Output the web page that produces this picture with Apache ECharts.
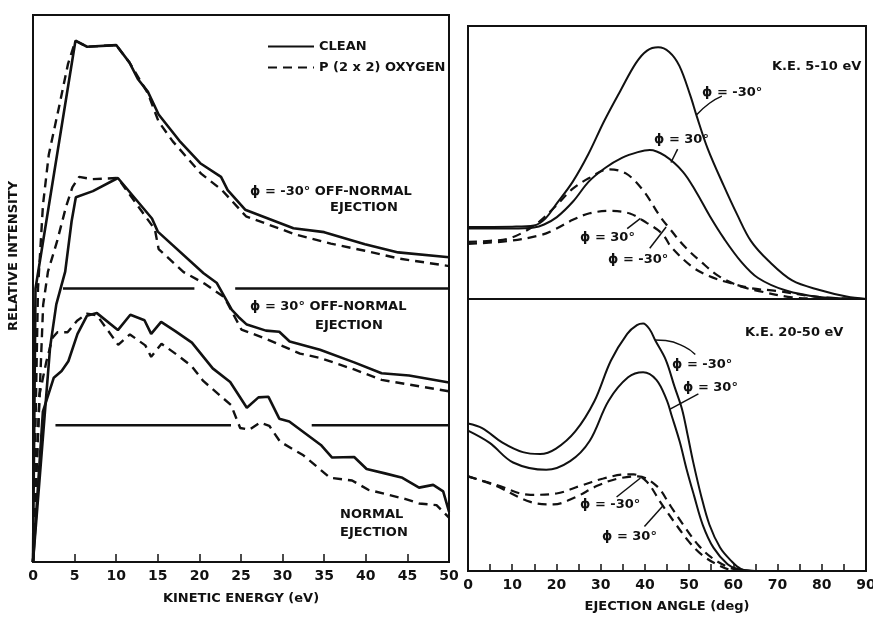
<!DOCTYPE html>
<html lang="en">
<head>
<meta charset="utf-8">
<title>Energy and angle distributions</title>
<script src="https://cdn.jsdelivr.net/npm/echarts@6/dist/echarts.min.js"></script>
<style>html,body{margin:0;padding:0;background:#fff}</style>
</head>
<body>
<div id="main" style="width:873px;height:618px"></div>
<script>
// left panel: kinetic energy (eV) vs relative intensity, curves offset by group
var cleanM30 = [[0,0],[0.3,5.0],[5.1,9.53],[6.5,9.42],[10.0,9.45],[11.6,9.13],[12.6,8.83],[13.8,8.6],[15.1,8.18],[17.6,7.7],[20.1,7.29],[22.6,7.04],[23.4,6.8],[25.5,6.44],[31.3,6.1],[35.0,6.03],[39.9,5.81],[43.9,5.66],[50,5.57]];
var oxyM30 = [[0,0],[0.6,5.0],[1.2,6.53],[1.9,7.45],[3.2,8.37],[4.2,9.1],[5.1,9.53],[6.5,9.42],[10.0,9.45],[11.6,9.13],[13.8,8.57],[15.1,8.05],[16.8,7.69],[20.2,7.1],[22.7,6.8],[25.6,6.32],[31.7,5.98],[35.8,5.82],[39.9,5.69],[43.9,5.55],[50,5.41]];
var clean30 = [[0,0],[2.05,3.92],[2.8,4.71],[3.87,5.31],[4.64,6.23],[5.15,6.67],[7.2,6.78],[10.2,7.02],[14.3,6.28],[15.0,6.04],[20.5,5.28],[22.1,5.1],[23.9,4.61],[24.7,4.48],[25.7,4.34],[28.0,4.23],[29.6,4.21],[30.85,4.03],[34.5,3.88],[38.6,3.65],[41.9,3.45],[45.2,3.41],[50,3.28]];
var oxy30 = [[0,0],[1.22,4.7],[1.8,5.31],[2.89,5.86],[3.96,6.49],[4.73,6.85],[5.55,7.04],[7.12,7.0],[10.18,7.02],[14.65,6.08],[15.1,5.72],[18.1,5.3],[20.6,5.09],[23.0,4.84],[23.8,4.61],[25.05,4.25],[28.0,4.08],[32.1,3.81],[34.5,3.73],[38.6,3.52],[41.9,3.33],[50,3.12]];
var cleanNormal = [[0,0],[1.19,2.75],[2.5,3.37],[3.44,3.49],[4.25,3.67],[5.35,4.17],[6.48,4.5],[7.68,4.55],[10.2,4.24],[11.7,4.52],[13.4,4.42],[14.2,4.17],[15.4,4.39],[17.1,4.22],[19.1,4.01],[21.6,3.54],[23.7,3.29],[25.7,2.82],[27.1,3.01],[28.3,3.02],[29.6,2.62],[30.8,2.57],[34.6,2.14],[35.95,1.91],[38.6,1.92],[40.1,1.7],[42.3,1.62],[44.4,1.54],[46.4,1.36],[48.1,1.41],[49.3,1.29],[50,0.92]];
var oxyNormal = [[0,0],[0.78,3.06],[1.6,3.66],[2.35,4.1],[2.93,4.2],[4.15,4.2],[5.3,4.41],[6.47,4.54],[7.68,4.51],[8.97,4.24],[10.24,3.97],[11.65,4.16],[13.5,3.96],[14.2,3.75],[15.45,3.99],[17.2,3.8],[19.07,3.58],[20.46,3.31],[23.8,2.87],[24.9,2.45],[26.0,2.42],[27.3,2.55],[28.4,2.49],[29.7,2.2],[32.5,1.95],[35.7,1.54],[38.35,1.49],[40.3,1.32],[44.8,1.15],[46.4,1.07],[48.5,1.04],[50,0.81]];
// offset zero levels of the two upper groups, drawn with gaps
var baseM30 = 5.0, baseM30Segs = [[3.6,19.4],[24.3,50]];
var base30 = 2.5, base30Segs = [[2.7,23.8],[33.5,50]];

// right panel, K.E. 5-10 eV: ejection angle (deg) vs intensity
var lowCleanM30 = [[0,2.64],[10,2.65],[14.9,2.69],[17.5,2.95],[19.8,3.44],[23.7,4.3],[27.2,5.3],[30.8,6.52],[34.5,7.64],[38.0,8.65],[40.5,9.1],[43,9.22],[45.5,9.05],[47.8,8.54],[50.3,7.44],[51.7,6.71],[54.2,5.51],[57.8,4.16],[60.9,3.08],[64.0,2.12],[68.0,1.39],[73.3,0.68],[79.5,0.33],[85.6,0.09],[90,0]];
var lowClean30 = [[0,2.58],[10,2.58],[14.9,2.62],[17.2,2.73],[20.1,3.0],[23.8,3.58],[27.3,4.3],[31.0,4.8],[34.8,5.17],[38.4,5.38],[41.1,5.46],[44.5,5.25],[48.6,4.66],[51.6,3.92],[54.7,3.03],[57.9,2.21],[61.7,1.38],[65.6,0.77],[71.9,0.31],[79.5,0.07],[87,0.01],[90,0]];
var lowOxyM30 = [[0,2.09],[5,2.13],[8.9,2.2],[12.7,2.46],[16.2,2.84],[19.8,3.4],[23.7,4.04],[27.3,4.42],[31.8,4.75],[35.7,4.6],[39.6,3.98],[43.5,3.01],[45.8,2.54],[49.0,1.92],[52.8,1.35],[56.7,0.84],[61.2,0.49],[65.8,0.29],[73.3,0.06],[80,0.01],[90,0]];
var lowOxy30 = [[0,2.02],[8.9,2.12],[16.2,2.33],[19.8,2.56],[23.7,2.9],[27.5,3.14],[32.1,3.23],[36.6,3.13],[40.5,2.78],[42.9,2.53],[44.5,2.27],[45.9,1.91],[50.6,1.19],[54.5,0.84],[58.3,0.63],[64.2,0.39],[69.6,0.3],[79.5,0.07],[90,0]];

// right panel, K.E. 20-50 eV
var highCleanM30 = [[0,5.42],[3.2,5.25],[7.8,4.72],[12.4,4.37],[16.3,4.3],[19.9,4.5],[24.3,5.14],[28.6,6.25],[32.3,7.73],[36.0,8.72],[38.2,9.04],[39.6,9.1],[41.1,8.88],[42.3,8.49],[44.7,7.77],[46.7,6.78],[48.4,5.95],[49.7,4.97],[50.9,4.02],[52.7,2.78],[54.6,1.7],[57.0,0.86],[59.4,0.39],[61.7,0.08],[65,0],[90,0]];
var highClean30 = [[0,5.16],[4.9,4.71],[10.2,3.99],[17.7,3.72],[23.1,4.04],[27.5,4.78],[31.8,6.26],[36.2,7.12],[39.6,7.31],[42.6,7.03],[44.9,6.3],[46.1,5.69],[47.9,4.74],[49.4,3.76],[51.1,2.78],[53.1,1.69],[55.5,0.86],[58.7,0.25],[61,0.07],[65,0],[90,0]];
var highOxyM30 = [[0,3.48],[6.3,3.13],[14.1,2.54],[19.4,2.45],[24.0,2.69],[29.2,3.13],[33.7,3.39],[38.5,3.48],[42.7,3.12],[45.8,2.39],[48.8,1.67],[52.1,0.95],[55.1,0.49],[58.9,0.14],[62,0.02],[66,0],[90,0]];
var highOxy30 = [[0,3.48],[6.3,3.17],[14.1,2.8],[20.0,2.85],[25.4,3.13],[30.6,3.4],[35.7,3.55],[37.5,3.55],[40.5,3.27],[43.5,2.53],[46.6,1.81],[49.9,1.09],[52.9,0.59],[56.8,0.2],[59.8,0.03],[65,0],[90,0]];

// leader lines from the phi labels to their curves
var lowPointers = [[[51.7,6.75],[54.6,7.17],[57.4,7.43]], [[45.9,5.0],[47.4,5.49]], [[36,2.58],[39,2.95]], [[41.1,1.86],[44.8,2.64]]];
var highPointers = [[[42.3,8.49],[44.7,8.47],[48.9,8.25],[51.4,7.96]], [[45.7,5.95],[52.1,6.51]], [[33.6,2.72],[39.0,3.42]], [[39.9,1.64],[44.1,2.4]]];

var CLEAN = 'CLEAN', OXY = 'P (2 x 2) OXYGEN';
var ink = '#111';
var fontFam = '"DejaVu Sans", "Liberation Sans", sans-serif';

var chart = echarts.init(document.getElementById('main'));

function curve(name, data, idx, dashed, w, smooth) {
    return {
        type: 'line', name: name, data: data,
        xAxisIndex: idx, yAxisIndex: idx,
        symbol: 'none', smooth: smooth || false,
        silent: true, animation: false,
        itemStyle: {color: ink},
        lineStyle: {color: ink, width: w, type: dashed ? [9, 6] : 'solid'}
    };
}
function levelLine(level, segs) {
    var d = [];
    segs.forEach(function (s, i) {
        if (i) d.push([s[0], '-']);
        d.push([s[0], level], [s[1], level]);
    });
    return curve('zero', d, 0, false, 2.5);
}

var series = [
    curve(CLEAN, cleanM30, 0, false, 2.6),
    curve(OXY, oxyM30, 0, true, 2.4),
    curve(CLEAN, clean30, 0, false, 2.6),
    curve(OXY, oxy30, 0, true, 2.4),
    curve(CLEAN, cleanNormal, 0, false, 2.6),
    curve(OXY, oxyNormal, 0, true, 2.4),
    levelLine(baseM30, baseM30Segs),
    levelLine(base30, base30Segs),
    curve(CLEAN, lowCleanM30, 1, false, 2, 0.35),
    curve(CLEAN, lowClean30, 1, false, 2, 0.35),
    curve(OXY, lowOxyM30, 1, true, 2.2, 0.35),
    curve(OXY, lowOxy30, 1, true, 2.2, 0.35),
    curve(CLEAN, highCleanM30, 2, false, 2, 0.35),
    curve(CLEAN, highClean30, 2, false, 2, 0.35),
    curve(OXY, highOxyM30, 2, true, 2.2, 0.35),
    curve(OXY, highOxy30, 2, true, 2.2, 0.35)
];
lowPointers.forEach(function (p) { series.push(curve('ptr', p, 1, false, 1.5, 0.5)); });
highPointers.forEach(function (p) { series.push(curve('ptr', p, 2, false, 1.5, 0.5)); });

var notes = [
    ['\u03d5 = -30\u00b0 OFF-NORMAL', 250, 192], ['EJECTION', 330, 208],
    ['\u03d5 = 30\u00b0 OFF-NORMAL', 250, 307], ['EJECTION', 315, 326],
    ['NORMAL', 340, 515], ['EJECTION', 340, 533],
    ['K.E. 5-10 eV', 772, 67],
    ['\u03d5 = -30\u00b0', 702, 93], ['\u03d5 = 30\u00b0', 654, 140],
    ['\u03d5 = 30\u00b0', 580, 238], ['\u03d5 = -30\u00b0', 608, 260],
    ['K.E. 20-50 eV', 745, 333],
    ['\u03d5 = -30\u00b0', 672, 365], ['\u03d5 = 30\u00b0', 683, 388],
    ['\u03d5 = -30\u00b0', 580, 505], ['\u03d5 = 30\u00b0', 602, 537]
];
var graphic = notes.map(function (n) {
    return {type: 'text', x: n[1], y: n[2], silent: true,
        style: {text: n[0], fill: ink, font: 'bold 13px ' + fontFam, textVerticalAlign: 'middle', verticalAlign: 'middle'}};
});
graphic.push({type: 'text', x: 14, y: 256, rotation: Math.PI / 2, silent: true,
    style: {text: 'RELATIVE INTENSITY', fill: ink, font: 'bold 13px ' + fontFam,
        textAlign: 'center', align: 'center', textVerticalAlign: 'middle', verticalAlign: 'middle'}});

var boxGrid = {show: true, borderColor: ink, borderWidth: 2, backgroundColor: 'transparent',
    containLabel: false, outerBoundsMode: 'none'};
var tickLabel = {color: ink, fontWeight: 'bold', fontSize: 14, fontFamily: fontFam, margin: 7};
var axisName = {color: ink, fontWeight: 'bold', fontSize: 13, fontFamily: fontFam};

var option = {
    backgroundColor: '#fff',
    animation: false,
    grid: [
        Object.assign({left: 33, right: 424, top: 15, bottom: 56}, boxGrid),
        Object.assign({left: 468, right: 7, top: 26, height: 273}, boxGrid),
        Object.assign({left: 468, right: 7, top: 299, bottom: 47}, boxGrid)
    ],
    legend: {
        data: [CLEAN, OXY], orient: 'vertical', left: 262, top: 35,
        itemWidth: 46, itemHeight: 12, itemGap: 8, selectedMode: false,
        itemStyle: {opacity: 0},
        textStyle: {color: ink, fontWeight: 'bold', fontSize: 13, fontFamily: fontFam}
    },
    xAxis: [
        {gridIndex: 0, type: 'value', min: 0, max: 50, interval: 5,
            name: 'KINETIC ENERGY (eV)', nameLocation: 'middle', nameGap: 30, nameTextStyle: axisName,
            axisLine: {show: false}, splitLine: {show: false},
            axisTick: {inside: true, length: 8, lineStyle: {color: ink, width: 1.5}},
            axisLabel: tickLabel},
        {gridIndex: 1, type: 'value', min: 0, max: 90, show: false},
        {gridIndex: 2, type: 'value', min: 0, max: 90, interval: 5,
            name: 'EJECTION ANGLE (deg)', nameLocation: 'middle', nameGap: 29, nameTextStyle: axisName,
            axisLine: {show: false}, splitLine: {show: false},
            axisTick: {inside: true, length: 7, lineStyle: {color: ink, width: 1.5}},
            axisLabel: Object.assign({formatter: function (v) { return v % 10 === 0 ? v : ''; }}, tickLabel)}
    ],
    yAxis: [0, 1, 2].map(function (i) {
        return {gridIndex: i, type: 'value', min: 0, max: 10,
            axisLine: {show: false}, axisTick: {show: false}, axisLabel: {show: false}, splitLine: {show: false}};
    }),
    graphic: graphic,
    series: series
};
chart.setOption(option);
</script>
</body>
</html>
